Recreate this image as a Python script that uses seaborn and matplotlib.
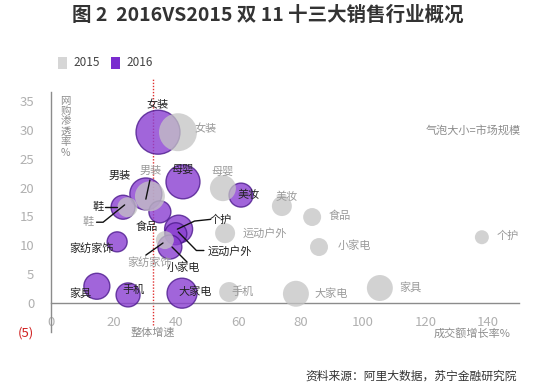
import numpy as np
import pandas as pd
import matplotlib
matplotlib.use("Agg")
import matplotlib.pyplot as plt
import seaborn as sns
from matplotlib.patches import Rectangle

# ---------------- data ----------------
categories = ["女装", "男装", "母婴", "美妆", "鞋", "食品", "个护", "运动户外",
              "小家电", "家纺家饰", "家具", "手机", "大家电"]
growth_2016 = [34.3, 30.4, 42.3, 60.9, 23.1, 34.9, 40.9, 40.0, 38.1, 21.2, 14.7, 24.7, 42.0]
penetration_2016 = [29.6, 18.9, 21.0, 18.7, 16.6, 15.8, 12.8, 12.0, 9.7, 10.6, 2.9, 1.4, 1.7]
market_2016 = [484, 256, 289, 144, 144, 121, 196, 121, 144, 100, 169, 144, 225]

growth_2015 = [40.7, 31.7, 55.1, 74.0, 24.5, 83.7, 138.1, 55.8, 85.9, 36.5, 105.4, 57.1, 78.5]
penetration_2015 = [29.6, 18.5, 19.9, 16.8, 16.6, 14.9, 11.4, 12.1, 9.7, 10.9, 2.6, 1.9, 1.6]
market_2015 = [361, 225, 169, 100, 100, 81, 49, 100, 81, 81, 169, 100, 169]

overall_growth = 32.7
y_ticks = [-5, 0, 5, 10, 15, 20, 25, 30, 35]
y_tick_labels = ["(5)", "0", "5", "10", "15", "20", "25", "30", "35"]
x_ticks = [0, 20, 40, 60, 80, 100, 120, 140]

# label positions (data coords)
lab2016 = {"女装": (34.3, 34.3), "男装": (22.1, 22.0), "母婴": (42.3, 23.1),
           "美妆": (63.5, 18.7), "鞋": (15.1, 16.6), "食品": (30.8, 13.2),
           "个护": (54.4, 14.5), "运动户外": (57.4, 9.0), "小家电": (42.3, 6.1),
           "家纺家饰": (13.1, 9.5), "家具": (9.3, 1.7), "手机": (26.3, 2.3),
           "大家电": (46.2, 1.9)}
lab2015 = {"女装": (49.4, 30.2), "男装": (32.1, 22.9), "母婴": (55.1, 22.7),
           "美妆": (75.6, 18.4), "食品": (92.6, 15.1), "个护": (146.5, 11.6),
           "运动户外": (68.6, 12.1), "小家电": (97.1, 9.9), "大家电": (89.7, 1.7),
           "家具": (115.1, 2.8), "手机": (61.5, 1.9), "鞋": (11.9, 14.0),
           "家纺家饰": (31.7, 7.1)}

df16 = pd.DataFrame({"cat": categories, "growth": growth_2016,
                     "pen": penetration_2016, "market": market_2016})
df15 = pd.DataFrame({"cat": categories, "growth": growth_2015,
                     "pen": penetration_2015, "market": market_2015})

# ---------------- style ----------------
sns.set_theme(style="white")
plt.rcParams["font.family"] = ["Noto Sans CJK SC", "DejaVu Sans"]

W, H = 535, 385
fig = plt.figure(figsize=(W / 100, H / 100), dpi=100)
# axes box in pixels
L, R, T, B = 30, 525, 79, 345
ax = fig.add_axes([L / W, 1 - B / H, (R - L) / W, (B - T) / H])
ax.set_xlim((L - 51) / 3.12, (R - 51) / 3.12)
ax.set_ylim((303 - B) / 5.77, (303 - T) / 5.77)

PURPLE = "#8a3fd1"
PURPLE_EDGE = "#4d1a8e"
GRAY = "#c4c4c4"
vmax = 500
smax = 2.07 * vmax

sns.scatterplot(data=df16, x="growth", y="pen", size="market",
                sizes=(0, smax), size_norm=(0, vmax), color=PURPLE,
                alpha=0.8, edgecolor=PURPLE_EDGE, linewidth=1.0,
                legend=False, ax=ax, zorder=3)
sns.scatterplot(data=df15, x="growth", y="pen", size="market",
                sizes=(0, smax), size_norm=(0, vmax), color=GRAY,
                alpha=0.75, edgecolor="none", linewidth=0,
                legend=False, ax=ax, zorder=4)

# axes lines
for s in ["top", "right"]:
    ax.spines[s].set_visible(False)
ax.spines["left"].set_position(("data", 0))
ax.spines["bottom"].set_position(("data", 0))
ax.spines["left"].set_bounds(-5, 36.5)
ax.spines["bottom"].set_bounds(0, 150)
for s in ["left", "bottom"]:
    ax.spines[s].set_color("#8c8c8c")
    ax.spines[s].set_linewidth(1.0)
ax.set_yticks(y_ticks)
ax.set_yticklabels(y_tick_labels)
ax.set_xticks(x_ticks)
ax.tick_params(axis="both", which="both", direction="out", length=3,
               color="#8c8c8c", labelcolor="#b0b0b0", labelsize=9.5)
ax.tick_params(axis="y", pad=9)
ax.tick_params(axis="x", pad=6)
ax.get_yticklabels()[0].set_color("#d02020")
ax.set_xlabel("")
ax.set_ylabel("")

# overall growth line
ax.plot([overall_growth, overall_growth], [-3.8, 38.8], color="#e03030",
        linestyle=(0, (1, 1.2)), linewidth=1.0, zorder=2)
ax.text(overall_growth, -5.2, "整体增速", color="#8c8c8c", fontsize=8,
        ha="center", va="center")

# labels
for c in categories:
    x, y = lab2016[c]
    ax.text(x, y, c, fontsize=8, color="#222222", ha="center", va="center", zorder=6)
    x, y = lab2015[c]
    ax.text(x, y, c, fontsize=8, color="#9a9a9a", ha="center", va="center", zorder=6)

# leader lines
leaders = [
    ([31.7, 30.4], [21.3, 18.0]),                # 男装
    ([17.3, 21.2], [16.6, 16.6]),                # 鞋 black
    ([14.6, 16.7, 23.6], [14.0, 14.0, 17.0]),    # 鞋 gray
    ([51.2, 46.0, 40.5], [14.5, 14.2, 12.8]),    # 个护
    ([49.0, 46.6, 40.8], [9.1, 9.1, 12.3]),      # 运动户外
    ([43.6, 38.8], [7.1, 9.7]),                  # 小家电
    ([30.4, 35.9], [8.3, 10.4]),                 # 家纺家饰 gray
]
for xs, ys in leaders:
    ax.plot(xs, ys, color="#111111", linewidth=1.0, zorder=7)

# axis titles / notes
ax.text(135, -5.2, "成交额增长率%", fontsize=8, color="#8c8c8c", ha="center", va="center")
ax.text(135.3, 30.0, "气泡大小=市场规模", fontsize=8, color="#8c8c8c", ha="center", va="center")
ax.text(4.6, 35.9, "\n".join("网购渗透率%"), fontsize=7.5, color="#8c8c8c",
        ha="center", va="top", linespacing=1.05)

# title
fig.text(0.5, 1 - 15 / H, "图 2  2016VS2015 双 11 十三大销售行业概况", fontsize=14,
         fontweight="bold", color="#333333", ha="center", va="center")

# legend
fig.patches.append(Rectangle((58 / W, 1 - 69 / H), 9 / W, 12 / H,
                             transform=fig.transFigure, facecolor="#d6d6d6",
                             edgecolor="none"))
fig.text(73 / W, 1 - 63 / H, "2015", fontsize=8.5, color="#444444", va="center")
fig.patches.append(Rectangle((111 / W, 1 - 69 / H), 9 / W, 12 / H,
                             transform=fig.transFigure, facecolor="#7a2ccf",
                             edgecolor="none"))
fig.text(126 / W, 1 - 63 / H, "2016", fontsize=8.5, color="#444444", va="center")

# source
fig.text(517 / W, 1 - 376 / H, "资料来源：阿里大数据，苏宁金融研究院", fontsize=8.5,
         color="#333333", ha="right", va="center", style="italic")

fig.savefig("out.png", dpi=100)
